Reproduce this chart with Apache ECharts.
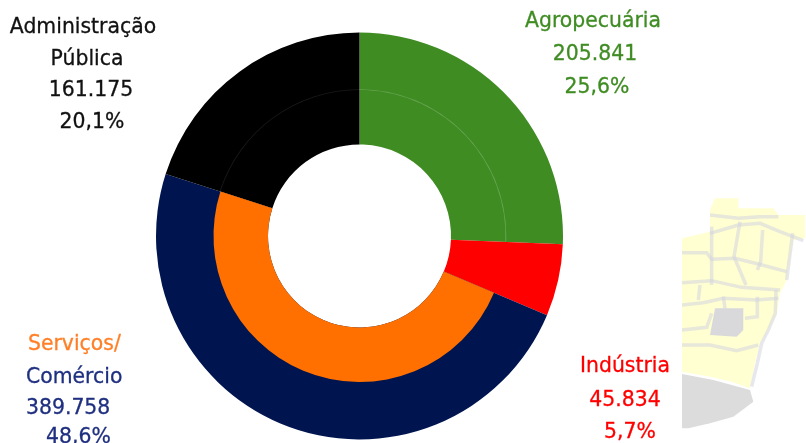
<!DOCTYPE html>
<html><head><meta charset="utf-8">
<style>html,body{margin:0;padding:0;background:#fff;overflow:hidden}#c{width:806px;height:443px}</style>
<script src="https://cdn.jsdelivr.net/npm/echarts@6/dist/echarts.min.js"></script>
</head><body><div id="c"></div>
<script>
const categories = ['Agropecuária', 'Indústria', 'Serviços/Comércio', 'Administração Pública'];
const values = [205841, 45834, 389758, 161175];
const valueLabels = ['205.841', '45.834', '389.758', '161.175'];
const percentLabels = ['25,6%', '5,7%', '48,6%', '20,1%'];
const outerColors = ['#3F8C23', '#FF0000', '#001550', '#000000'];
const innerColors = ['rgba(0,0,0,0)', 'rgba(0,0,0,0)', '#FF7000', 'rgba(0,0,0,0)'];
const seamColors = ['rgba(255,255,255,0.22)', 'rgba(0,0,0,0)', 'rgba(0,0,0,0)', 'rgba(255,255,255,0.1)'];

const FONT = '"DejaVu Sans", sans-serif';
const SIZE = 20.4;
function txt(s, x, y, fill, align) {
  return {type:'text', silent:true, x, y, style:{text:s, fill, stroke:fill, lineWidth:0.3, font:`${SIZE}px ${FONT}`, align:align||'center', verticalAlign:'middle'}};
}
function mapPt(p){ return [670 + p[0]/3, 190 + p[1]/3]; }
const mapYellow = [[135,25],[205,25],[205,55],[310,55],[325,75],[405,75],[405,145],[370,150],[360,210],[350,270],[330,310],[320,370],[295,420],[270,460],[255,520],[240,595],[185,575],[120,560],[36,545],[36,145],[120,125],[120,60]];
const mapGrayBottom = [[36,552],[130,570],[240,600],[250,635],[190,680],[120,700],[55,715],[36,715]];
const mapGrayInner = [[135,355],[220,355],[220,420],[200,440],[120,435]];
const mapLines = [
  [[120,75],[205,85],[270,80],[325,80]],
  [[120,130],[205,105],[270,100],[330,125],[400,152]],
  [[36,188],[110,188],[125,208],[195,205],[265,222],[350,245]],
  [[36,278],[125,272],[215,292],[330,300]],
  [[36,345],[100,338],[160,325],[260,330],[325,325]],
  [[36,465],[120,465],[200,482],[265,465]],
  [[125,110],[125,250],[125,285]],
  [[210,95],[192,200],[228,285]],
  [[278,120],[272,215],[262,240]],
  [[368,130],[350,270]],
  [[90,285],[85,330]],
  [[160,320],[165,355]],
  [[262,320],[262,380],[225,385]],
  [[318,300],[316,370],[295,420],[275,460],[262,520],[245,590]],
  [[36,420],[110,412],[125,370]]
];
const mapShapes = [
  {type:'polygon', silent:true, shape:{points:mapYellow.map(mapPt)}, style:{fill:'#FFFFD2'}},
  {type:'polygon', silent:true, shape:{points:mapGrayBottom.map(mapPt)}, style:{fill:'#DCDCDC'}},
  {type:'polygon', silent:true, shape:{points:mapGrayInner.map(mapPt)}, style:{fill:'#D9D9DC'}}
].concat(mapLines.map(l => ({type:'polyline', silent:true, shape:{points:l.map(mapPt)}, style:{stroke:'#D4D4E0', lineWidth:3.5, fill:null, opacity:0.55}})));

const labels = [
  txt('Administração', 83, 28, '#111111'),
  txt('Pública', 87, 60, '#111111'),
  txt(valueLabels[3], 91, 91, '#111111'),
  txt(percentLabels[3], 92, 123, '#111111'),
  txt(categories[0], 593, 22, '#3F8C23'),
  txt(valueLabels[0], 595, 55, '#3F8C23'),
  txt(percentLabels[0], 597, 88, '#3F8C23'),
  txt('Serviços/', 28, 345, '#FF7F27', 'left'),
  txt('Comércio', 26, 378, '#1F2F80', 'left'),
  txt(valueLabels[2], 26, 409, '#1F2F80', 'left'),
  txt(percentLabels[2], 46, 438, '#1F2F80', 'left'),
  txt(categories[1], 625, 367, '#FF0000'),
  txt(valueLabels[1], 625, 401, '#FF0000'),
  txt(percentLabels[1], 630, 433, '#FF0000')
];

function ring(colors, r0, r1, z) {
  return {type:'pie', z, silent:true, animation:false, center:[359.5,236], radius:[r0,r1], startAngle:90, clockwise:true, avoidLabelOverlap:false,
    label:{show:false}, labelLine:{show:false}, emphasis:{disabled:true},
    data: categories.map((name,i)=>({name, value:values[i], itemStyle:{color:colors[i]}}))};
}
const chart = echarts.init(document.getElementById('c'), null, {renderer:'canvas'});
chart.setOption({
  animation:false,
  backgroundColor:'#ffffff',
  tooltip:{show:false}, legend:{show:false},
  series:[ ring(outerColors,91.5,203.5,2), ring(innerColors,91.5,146,3), ring(seamColors,146,146.8,4) ],
  graphic:{elements: mapShapes.concat(labels)}
});
</script></body></html>
